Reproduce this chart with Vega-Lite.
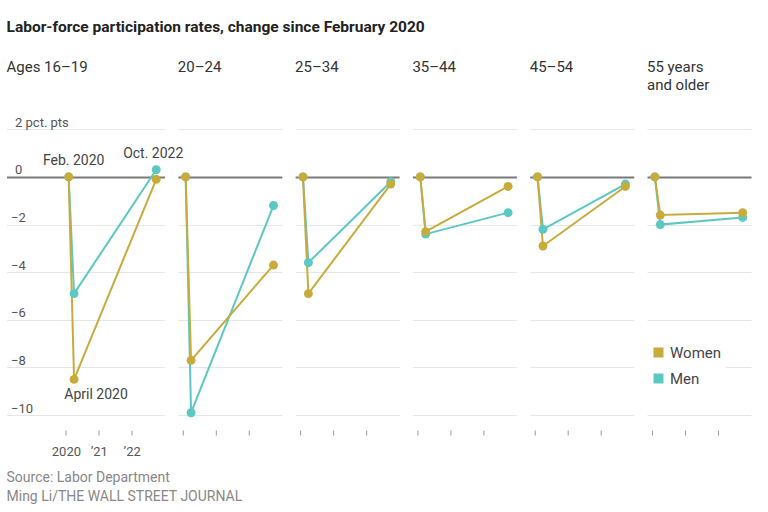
{
  "$schema": "https://vega.github.io/schema/vega-lite/v6.json",
  "background": "white",
  "padding": {"left": 6.5, "top": 19, "right": 5, "bottom": 5},
  "title": {"text": "Labor-force participation rates, change since February 2020", "anchor": "start", "orient": "top", "baseline": "top", "offset": 25, "fontSize": 15.5, "fontWeight": "bold", "font": "Roboto", "color": "#222"},
  "datasets": {
    "rates": [
      {"age": "16–19", "sex": "Men", "date": "2020-02-01", "value": 0},
      {"age": "16–19", "sex": "Men", "date": "2020-04-01", "value": -4.9},
      {"age": "16–19", "sex": "Men", "date": "2022-10-01", "value": 0.3},
      {"age": "20–24", "sex": "Men", "date": "2020-02-01", "value": 0},
      {"age": "20–24", "sex": "Men", "date": "2020-04-01", "value": -9.9},
      {"age": "20–24", "sex": "Men", "date": "2022-10-01", "value": -1.2},
      {"age": "25–34", "sex": "Men", "date": "2020-02-01", "value": 0},
      {"age": "25–34", "sex": "Men", "date": "2020-04-01", "value": -3.6},
      {"age": "25–34", "sex": "Men", "date": "2022-10-01", "value": -0.2},
      {"age": "35–44", "sex": "Men", "date": "2020-02-01", "value": 0},
      {"age": "35–44", "sex": "Men", "date": "2020-04-01", "value": -2.4},
      {"age": "35–44", "sex": "Men", "date": "2022-10-01", "value": -1.5},
      {"age": "45–54", "sex": "Men", "date": "2020-02-01", "value": 0},
      {"age": "45–54", "sex": "Men", "date": "2020-04-01", "value": -2.2},
      {"age": "45–54", "sex": "Men", "date": "2022-10-01", "value": -0.3},
      {"age": "55+", "sex": "Men", "date": "2020-02-01", "value": 0},
      {"age": "55+", "sex": "Men", "date": "2020-04-01", "value": -2.0},
      {"age": "55+", "sex": "Men", "date": "2022-10-01", "value": -1.7},
      {"age": "16–19", "sex": "Women", "date": "2020-02-01", "value": 0},
      {"age": "16–19", "sex": "Women", "date": "2020-04-01", "value": -8.5},
      {"age": "16–19", "sex": "Women", "date": "2022-10-01", "value": -0.1},
      {"age": "20–24", "sex": "Women", "date": "2020-02-01", "value": 0},
      {"age": "20–24", "sex": "Women", "date": "2020-04-01", "value": -7.7},
      {"age": "20–24", "sex": "Women", "date": "2022-10-01", "value": -3.7},
      {"age": "25–34", "sex": "Women", "date": "2020-02-01", "value": 0},
      {"age": "25–34", "sex": "Women", "date": "2020-04-01", "value": -4.9},
      {"age": "25–34", "sex": "Women", "date": "2022-10-01", "value": -0.3},
      {"age": "35–44", "sex": "Women", "date": "2020-02-01", "value": 0},
      {"age": "35–44", "sex": "Women", "date": "2020-04-01", "value": -2.3},
      {"age": "35–44", "sex": "Women", "date": "2022-10-01", "value": -0.4},
      {"age": "45–54", "sex": "Women", "date": "2020-02-01", "value": 0},
      {"age": "45–54", "sex": "Women", "date": "2020-04-01", "value": -2.9},
      {"age": "45–54", "sex": "Women", "date": "2022-10-01", "value": -0.4},
      {"age": "55+", "sex": "Women", "date": "2020-02-01", "value": 0},
      {"age": "55+", "sex": "Women", "date": "2020-04-01", "value": -1.6},
      {"age": "55+", "sex": "Women", "date": "2022-10-01", "value": -1.5}
    ],
    "notes": [
      {"age": "16–19", "note": "Feb. 2020", "date": "2020-02-01", "value": 0},
      {"age": "16–19", "note": "April 2020", "date": "2020-04-01", "value": -8.5},
      {"age": "16–19", "note": "Oct. 2022", "date": "2022-10-01", "value": 0.3}
    ]
  },
  "vconcat": [
    {
      "title": {"text": ["Source: Labor Department", "Ming Li/THE WALL STREET JOURNAL"], "orient": "bottom", "anchor": "start", "baseline": "top", "offset": 12, "fontSize": 14, "fontWeight": "normal", "font": "Roboto", "color": "#888", "lineHeight": 19},
      "spacing": 13.3,
      "bounds": "flush",
      "resolve": {"legend": {"fill": "independent"}},
      "hconcat": [
        {
          "width": 158, "height": 315,
          "title": {"text": ["Ages 16–19", " "], "anchor": "start", "baseline": "top", "offset": 22, "fontSize": 15, "fontWeight": "normal", "font": "Roboto", "color": "#333", "lineHeight": 18},
          "data": {"name": "rates"},
          "transform": [{"filter": "datum.age === '16–19'"}],
          "encoding": {
            "x": {"field": "date", "type": "temporal", "title": null,
              "scale": {"type": "utc", "domain": [{"year": 2018, "month": "mar", "date": 12, "utc": true}, {"year": 2023, "month": "jan", "date": 1, "utc": true}]},
              "axis": {"values": [{"year": 2020, "month": "jan", "date": 1, "utc": true}, {"year": 2021, "month": "jan", "date": 1, "utc": true}, {"year": 2022, "month": "jan", "date": 1, "utc": true}],
                "labelExpr": "utcFormat(datum.value, '%Y') === '2020' ? '2020' : '’' + utcFormat(datum.value, '%y')",
                "grid": false, "domain": false, "ticks": true, "tickSize": 5, "tickColor": "#999", "labelPadding": 10.5, "labelFontSize": 13, "labelColor": "#555", "labelFont": "Roboto", "labelFlush": false, "labelOverlap": false}},
            "y": {"field": "value", "type": "quantitative", "title": null,
              "scale": {"domain": [-10.625, 2.6], "nice": false, "zero": false},
              "axis": {"values": [-10, -8, -6, -4, -2, 0, 2], "domain": false, "ticks": false, "tickSize": 0, "grid": true,
                "gridColor": {"condition": {"test": "datum.value === 0", "value": "#7a7a7a"}, "value": "#e6e6e6"},
                "gridWidth": {"condition": {"test": "datum.value === 0", "value": 2}, "value": 1},
                "labelAlign": "left", "labelBaseline": "bottom",
                "labelPadding": {"condition": {"test": "datum.value >= 0", "value": -8}, "value": -4},
                "labelExpr": "datum.value === 2 ? '2 pct. pts' : datum.value < 0 ? '−' + abs(datum.value) : '0'",
                "labelFontSize": 13, "labelColor": "#555", "labelFont": "Roboto"}}
          },
          "layer": [
            {"mark": {"type": "line", "strokeWidth": 2}, "encoding": {"stroke": {"field": "sex", "type": "nominal", "scale": {"domain": ["Women", "Men"], "range": ["#c9ab3c", "#5cc8c2"]}, "legend": null}}},
            {"mark": {"type": "circle", "size": 80, "opacity": 1}, "encoding": {"fill": {"field": "sex", "type": "nominal", "scale": {"domain": ["Women", "Men"], "range": ["#c9ab3c", "#5cc8c2"]}, "legend": null}}},
            {"data": {"name": "notes"}, "transform": [{"filter": "datum.note === 'Feb. 2020'"}], "mark": {"type": "text", "dx": 5, "dy": -16, "align": "center", "baseline": "middle", "fontSize": 14, "font": "Roboto", "color": "#444"}, "encoding": {"text": {"field": "note"}}},
            {"data": {"name": "notes"}, "transform": [{"filter": "datum.note === 'Oct. 2022'"}], "mark": {"type": "text", "dx": -3, "dy": -16, "align": "center", "baseline": "middle", "fontSize": 14, "font": "Roboto", "color": "#444"}, "encoding": {"text": {"field": "note"}}},
            {"data": {"name": "notes"}, "transform": [{"filter": "datum.note === 'April 2020'"}], "mark": {"type": "text", "dx": 22, "dy": 16, "align": "center", "baseline": "middle", "fontSize": 14, "font": "Roboto", "color": "#444"}, "encoding": {"text": {"field": "note"}}}
          ]
        },
        {
          "width": 104, "height": 315,
          "title": {"text": ["20–24", " "], "anchor": "start", "baseline": "top", "offset": 22, "fontSize": 15, "fontWeight": "normal", "font": "Roboto", "color": "#333", "lineHeight": 18},
          "data": {"name": "rates"},
          "transform": [{"filter": "datum.age === '20–24'"}],
          "encoding": {
            "x": {"field": "date", "type": "temporal", "title": null,
              "scale": {"type": "utc", "domain": [{"year": 2019, "month": "nov", "date": 6, "utc": true}, {"year": 2023, "month": "jan", "date": 1, "utc": true}]},
              "axis": {"values": [{"year": 2020, "month": "jan", "date": 1, "utc": true}, {"year": 2021, "month": "jan", "date": 1, "utc": true}, {"year": 2022, "month": "jan", "date": 1, "utc": true}],
                "labels": false, "grid": false, "domain": false, "ticks": true, "tickSize": 5, "tickColor": "#999"}},
            "y": {"field": "value", "type": "quantitative", "title": null,
              "scale": {"domain": [-10.625, 2.6], "nice": false, "zero": false},
              "axis": {"values": [-10, -8, -6, -4, -2, 0, 2], "domain": false, "ticks": false, "tickSize": 0, "grid": true,
                "gridColor": {"condition": {"test": "datum.value === 0", "value": "#7a7a7a"}, "value": "#e6e6e6"},
                "gridWidth": {"condition": {"test": "datum.value === 0", "value": 2}, "value": 1},
                "labelAlign": "left", "labelBaseline": "bottom", "labelPadding": -8, "labelOpacity": 0,
                "labelExpr": "datum.value === 2 ? '2 pct. pts' : datum.value < 0 ? '−' + abs(datum.value) : '0'",
                "labelFontSize": 13, "labelFont": "Roboto"}}
          },
          "layer": [
            {"mark": {"type": "line", "strokeWidth": 2}, "encoding": {"stroke": {"field": "sex", "type": "nominal", "scale": {"domain": ["Women", "Men"], "range": ["#c9ab3c", "#5cc8c2"]}, "legend": null}}},
            {"mark": {"type": "circle", "size": 80, "opacity": 1}, "encoding": {"fill": {"field": "sex", "type": "nominal", "scale": {"domain": ["Women", "Men"], "range": ["#c9ab3c", "#5cc8c2"]}, "legend": null}}}
          ]
        },
        {
          "width": 104, "height": 315,
          "title": {"text": ["25–34", " "], "anchor": "start", "baseline": "top", "offset": 22, "fontSize": 15, "fontWeight": "normal", "font": "Roboto", "color": "#333", "lineHeight": 18},
          "data": {"name": "rates"},
          "transform": [{"filter": "datum.age === '25–34'"}],
          "encoding": {
            "x": {"field": "date", "type": "temporal", "title": null,
              "scale": {"type": "utc", "domain": [{"year": 2019, "month": "nov", "date": 6, "utc": true}, {"year": 2023, "month": "jan", "date": 1, "utc": true}]},
              "axis": {"values": [{"year": 2020, "month": "jan", "date": 1, "utc": true}, {"year": 2021, "month": "jan", "date": 1, "utc": true}, {"year": 2022, "month": "jan", "date": 1, "utc": true}],
                "labels": false, "grid": false, "domain": false, "ticks": true, "tickSize": 5, "tickColor": "#999"}},
            "y": {"field": "value", "type": "quantitative", "title": null,
              "scale": {"domain": [-10.625, 2.6], "nice": false, "zero": false},
              "axis": {"values": [-10, -8, -6, -4, -2, 0, 2], "domain": false, "ticks": false, "tickSize": 0, "grid": true,
                "gridColor": {"condition": {"test": "datum.value === 0", "value": "#7a7a7a"}, "value": "#e6e6e6"},
                "gridWidth": {"condition": {"test": "datum.value === 0", "value": 2}, "value": 1},
                "labelAlign": "left", "labelBaseline": "bottom", "labelPadding": -8, "labelOpacity": 0,
                "labelExpr": "datum.value === 2 ? '2 pct. pts' : datum.value < 0 ? '−' + abs(datum.value) : '0'",
                "labelFontSize": 13, "labelFont": "Roboto"}}
          },
          "layer": [
            {"mark": {"type": "line", "strokeWidth": 2}, "encoding": {"stroke": {"field": "sex", "type": "nominal", "scale": {"domain": ["Women", "Men"], "range": ["#c9ab3c", "#5cc8c2"]}, "legend": null}}},
            {"mark": {"type": "circle", "size": 80, "opacity": 1}, "encoding": {"fill": {"field": "sex", "type": "nominal", "scale": {"domain": ["Women", "Men"], "range": ["#c9ab3c", "#5cc8c2"]}, "legend": null}}}
          ]
        },
        {
          "width": 104, "height": 315,
          "title": {"text": ["35–44", " "], "anchor": "start", "baseline": "top", "offset": 22, "fontSize": 15, "fontWeight": "normal", "font": "Roboto", "color": "#333", "lineHeight": 18},
          "data": {"name": "rates"},
          "transform": [{"filter": "datum.age === '35–44'"}],
          "encoding": {
            "x": {"field": "date", "type": "temporal", "title": null,
              "scale": {"type": "utc", "domain": [{"year": 2019, "month": "nov", "date": 6, "utc": true}, {"year": 2023, "month": "jan", "date": 1, "utc": true}]},
              "axis": {"values": [{"year": 2020, "month": "jan", "date": 1, "utc": true}, {"year": 2021, "month": "jan", "date": 1, "utc": true}, {"year": 2022, "month": "jan", "date": 1, "utc": true}],
                "labels": false, "grid": false, "domain": false, "ticks": true, "tickSize": 5, "tickColor": "#999"}},
            "y": {"field": "value", "type": "quantitative", "title": null,
              "scale": {"domain": [-10.625, 2.6], "nice": false, "zero": false},
              "axis": {"values": [-10, -8, -6, -4, -2, 0, 2], "domain": false, "ticks": false, "tickSize": 0, "grid": true,
                "gridColor": {"condition": {"test": "datum.value === 0", "value": "#7a7a7a"}, "value": "#e6e6e6"},
                "gridWidth": {"condition": {"test": "datum.value === 0", "value": 2}, "value": 1},
                "labelAlign": "left", "labelBaseline": "bottom", "labelPadding": -8, "labelOpacity": 0,
                "labelExpr": "datum.value === 2 ? '2 pct. pts' : datum.value < 0 ? '−' + abs(datum.value) : '0'",
                "labelFontSize": 13, "labelFont": "Roboto"}}
          },
          "layer": [
            {"mark": {"type": "line", "strokeWidth": 2}, "encoding": {"stroke": {"field": "sex", "type": "nominal", "scale": {"domain": ["Women", "Men"], "range": ["#c9ab3c", "#5cc8c2"]}, "legend": null}}},
            {"mark": {"type": "circle", "size": 80, "opacity": 1}, "encoding": {"fill": {"field": "sex", "type": "nominal", "scale": {"domain": ["Women", "Men"], "range": ["#c9ab3c", "#5cc8c2"]}, "legend": null}}}
          ]
        },
        {
          "width": 104, "height": 315,
          "title": {"text": ["45–54", " "], "anchor": "start", "baseline": "top", "offset": 22, "fontSize": 15, "fontWeight": "normal", "font": "Roboto", "color": "#333", "lineHeight": 18},
          "data": {"name": "rates"},
          "transform": [{"filter": "datum.age === '45–54'"}],
          "encoding": {
            "x": {"field": "date", "type": "temporal", "title": null,
              "scale": {"type": "utc", "domain": [{"year": 2019, "month": "nov", "date": 6, "utc": true}, {"year": 2023, "month": "jan", "date": 1, "utc": true}]},
              "axis": {"values": [{"year": 2020, "month": "jan", "date": 1, "utc": true}, {"year": 2021, "month": "jan", "date": 1, "utc": true}, {"year": 2022, "month": "jan", "date": 1, "utc": true}],
                "labels": false, "grid": false, "domain": false, "ticks": true, "tickSize": 5, "tickColor": "#999"}},
            "y": {"field": "value", "type": "quantitative", "title": null,
              "scale": {"domain": [-10.625, 2.6], "nice": false, "zero": false},
              "axis": {"values": [-10, -8, -6, -4, -2, 0, 2], "domain": false, "ticks": false, "tickSize": 0, "grid": true,
                "gridColor": {"condition": {"test": "datum.value === 0", "value": "#7a7a7a"}, "value": "#e6e6e6"},
                "gridWidth": {"condition": {"test": "datum.value === 0", "value": 2}, "value": 1},
                "labelAlign": "left", "labelBaseline": "bottom", "labelPadding": -8, "labelOpacity": 0,
                "labelExpr": "datum.value === 2 ? '2 pct. pts' : datum.value < 0 ? '−' + abs(datum.value) : '0'",
                "labelFontSize": 13, "labelFont": "Roboto"}}
          },
          "layer": [
            {"mark": {"type": "line", "strokeWidth": 2}, "encoding": {"stroke": {"field": "sex", "type": "nominal", "scale": {"domain": ["Women", "Men"], "range": ["#c9ab3c", "#5cc8c2"]}, "legend": null}}},
            {"mark": {"type": "circle", "size": 80, "opacity": 1}, "encoding": {"fill": {"field": "sex", "type": "nominal", "scale": {"domain": ["Women", "Men"], "range": ["#c9ab3c", "#5cc8c2"]}, "legend": null}}}
          ]
        },
        {
          "width": 104, "height": 315,
          "title": {"text": ["55 years", "and older"], "anchor": "start", "baseline": "top", "offset": 22, "fontSize": 15, "fontWeight": "normal", "font": "Roboto", "color": "#333", "lineHeight": 18},
          "data": {"name": "rates"},
          "transform": [{"filter": "datum.age === '55+'"}],
          "encoding": {
            "x": {"field": "date", "type": "temporal", "title": null,
              "scale": {"type": "utc", "domain": [{"year": 2019, "month": "nov", "date": 6, "utc": true}, {"year": 2023, "month": "jan", "date": 1, "utc": true}]},
              "axis": {"values": [{"year": 2020, "month": "jan", "date": 1, "utc": true}, {"year": 2021, "month": "jan", "date": 1, "utc": true}, {"year": 2022, "month": "jan", "date": 1, "utc": true}],
                "labels": false, "grid": false, "domain": false, "ticks": true, "tickSize": 5, "tickColor": "#999"}},
            "y": {"field": "value", "type": "quantitative", "title": null,
              "scale": {"domain": [-10.625, 2.6], "nice": false, "zero": false},
              "axis": {"values": [-10, -8, -6, -4, -2, 0, 2], "domain": false, "ticks": false, "tickSize": 0, "grid": true,
                "gridColor": {"condition": {"test": "datum.value === 0", "value": "#7a7a7a"}, "value": "#e6e6e6"},
                "gridWidth": {"condition": {"test": "datum.value === 0", "value": 2}, "value": 1},
                "labelAlign": "left", "labelBaseline": "bottom", "labelPadding": -8, "labelOpacity": 0,
                "labelExpr": "datum.value === 2 ? '2 pct. pts' : datum.value < 0 ? '−' + abs(datum.value) : '0'",
                "labelFontSize": 13, "labelFont": "Roboto"}}
          },
          "layer": [
            {"mark": {"type": "line", "strokeWidth": 2}, "encoding": {"stroke": {"field": "sex", "type": "nominal", "scale": {"domain": ["Women", "Men"], "range": ["#c9ab3c", "#5cc8c2"]}, "legend": null}}},
            {"mark": {"type": "circle", "size": 80, "opacity": 1}, "encoding": {"fill": {"field": "sex", "type": "nominal", "scale": {"domain": ["Women", "Men"], "range": ["#c9ab3c", "#5cc8c2"]},
              "legend": {"orient": "none", "legendX": 0, "legendY": 226, "title": null, "symbolType": "square", "symbolSize": 100, "symbolStrokeWidth": 0, "symbolOpacity": 1, "labelFontSize": 15, "labelColor": "#444", "labelFont": "Roboto", "fillColor": "white", "padding": 4, "rowPadding": 10, "labelOffset": 4}}}}
          ]
        }
      ]
    }
  ],
  "config": {
    "view": {"stroke": null},
    "font": "Roboto"
  }
}
